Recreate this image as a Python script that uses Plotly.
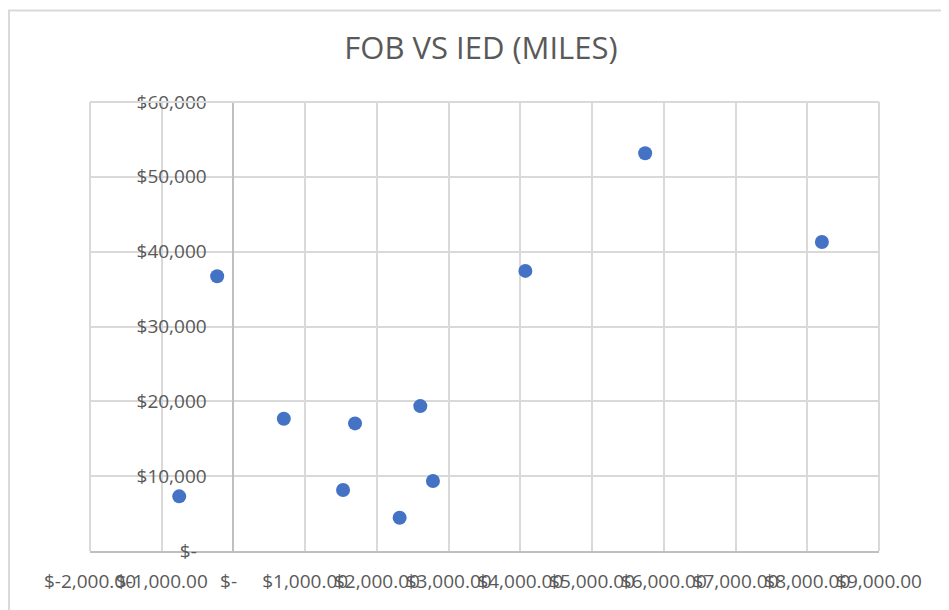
import plotly.graph_objects as go

# Data
miles_x = [-756, -227, 702, 1528, 1695, 2317, 2605, 2781, 4070, 5740, 8204]
fob_y = [7303, 36716, 17664, 8144, 17050, 4447, 19360, 9346, 37427, 53160, 41293]

x_tickvals = [-2000, -1000, 0, 1000, 2000, 3000, 4000, 5000, 6000, 7000, 8000, 9000]
x_ticktext = ["$-2,000.00", "$-1,000.00", "$-\u00a0\u00a0", "$1,000.00", "$2,000.00", "$3,000.00",
              "$4,000.00", "$5,000.00", "$6,000.00", "$7,000.00", "$8,000.00", "$9,000.00"]
y_tickvals = [0, 10000, 20000, 30000, 40000, 50000, 60000]
y_ticktext = ["$-\u00a0\u00a0", "$10,000", "$20,000", "$30,000", "$40,000", "$50,000", "$60,000"]

FONT = "Open Sans"
GRAY_TXT = "#595959"
GRID = "#d9d9d9"
AXIS = "#bfbfbf"

fig = go.Figure()
fig.add_trace(go.Scatter(
    x=miles_x, y=fob_y, mode="markers",
    marker=dict(size=14, color="#4472C4", line=dict(width=0)),
    showlegend=False, cliponaxis=False,
))

x_min, x_max = -2000, 9000
fig.update_layout(
    width=949, height=610,
    margin=dict(l=82, r=78, t=94, b=67, autoexpand=False),
    paper_bgcolor="white", plot_bgcolor="white",
    title=dict(text="FOB VS IED (MILES)", x=0.4984, xanchor="center", y=0.935, yanchor="middle",
               font=dict(family=FONT, size=31, color=GRAY_TXT)),
    font=dict(family=FONT, color=GRAY_TXT),
    xaxis=dict(
        range=[x_min, x_max], tickvals=x_tickvals, ticktext=x_ticktext,
        showgrid=True, gridcolor=GRID, gridwidth=2,
        zeroline=False, showline=True, linecolor=AXIS, linewidth=2,
        ticks="outside", ticklen=12, tickcolor="rgba(0,0,0,0)", tickangle=0,
        tickfont=dict(family=FONT, size=19, color=GRAY_TXT),
        automargin=False, fixedrange=True,
    ),
    yaxis=dict(
        range=[0, 60000], tickvals=y_tickvals, ticktext=y_ticktext,
        showgrid=True, gridcolor=GRID, gridwidth=2,
        zeroline=False, showline=True, linecolor=AXIS, linewidth=2,
        anchor="free", position=(0 - x_min) / (x_max - x_min),
        ticks="outside", ticklen=22, tickcolor="rgba(0,0,0,0)",
        tickfont=dict(family=FONT, size=19, color=GRAY_TXT),
        automargin=False, fixedrange=True,
    ),
    shapes=[
        dict(type="rect", xref="paper", yref="paper", x0=-0.1027, x1=1.2, y0=-0.2, y1=1.204,
             line=dict(color=GRID, width=2), fillcolor="rgba(0,0,0,0)", layer="below"),
        dict(type="line", xref="paper", yref="paper", x0=0, x1=1, y0=1, y1=1,
             line=dict(color=GRID, width=2)),
        dict(type="line", xref="paper", yref="paper", x0=1, x1=1, y0=0, y1=1,
             line=dict(color=GRID, width=2)),
        dict(type="line", xref="paper", yref="paper", x0=0, x1=0, y0=0, y1=1,
             line=dict(color=GRID, width=2)),
    ],
)

fig.write_html("out.html")
